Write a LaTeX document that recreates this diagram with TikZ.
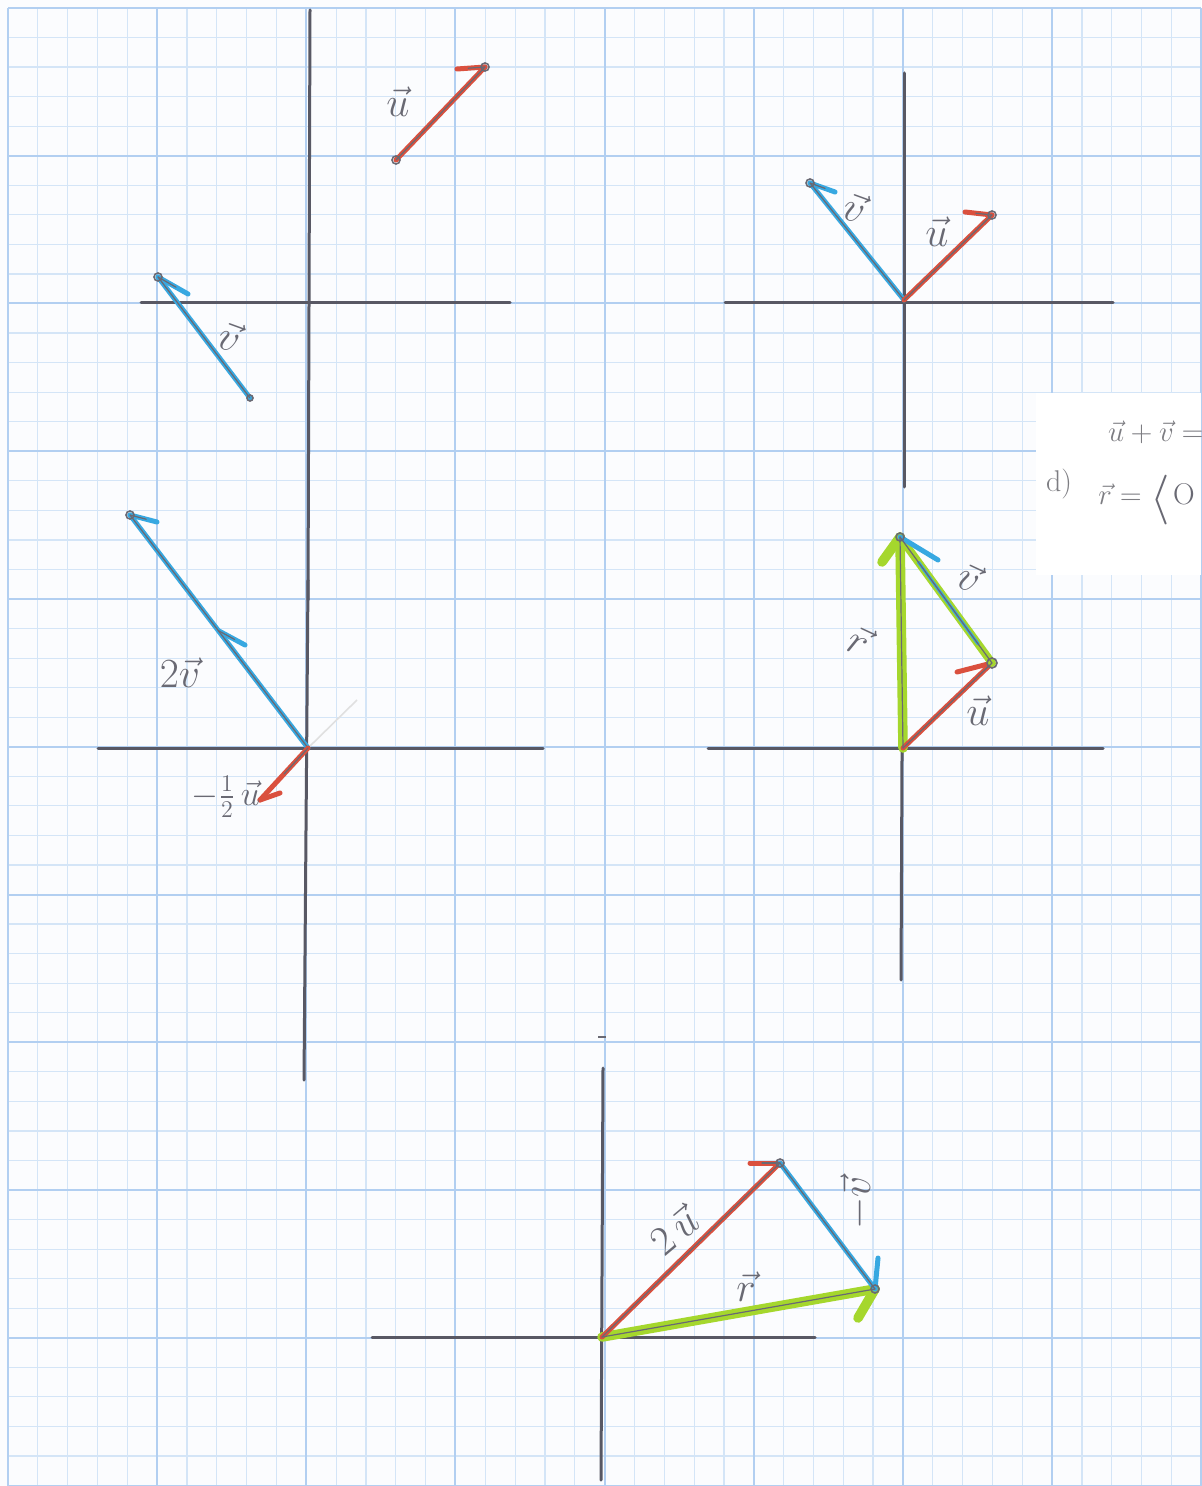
\documentclass[tikz,border=0pt]{standalone}
\usepackage{amsmath}
\usetikzlibrary{calc}
\definecolor{paper}{RGB}{251,252,254}
\definecolor{gridminor}{RGB}{212,229,247}
\definecolor{gridmajor}{RGB}{178,207,241}
\definecolor{pencil}{RGB}{105,105,115}
\definecolor{axisgray}{RGB}{88,88,100}
\definecolor{redink}{RGB}{218,80,62}
\definecolor{blueink}{RGB}{55,168,225}
\definecolor{greenink}{RGB}{165,215,45}
\definecolor{printgray}{RGB}{125,125,130}
\begin{document}
\begin{tikzpicture}[x=0.5pt,y=-0.5pt,
  axisline/.style={axisgray, line width=1.5pt, line cap=round},
  redvec/.style={redink, line width=2.5pt, line cap=round},
  bluevec/.style={blueink, line width=2.5pt, line cap=round},
  greenvec/.style={greenink, line width=4.8pt, line cap=round},
  pencilline/.style={pencil, line width=0.6pt, line cap=round},
  headdot/.style={pencil, line width=0.8pt},
  lab/.style={text=pencil, font=\fontsize{20}{22}\selectfont, inner sep=0pt},
  printtext/.style={text=printgray, font=\fontsize{15}{17}\selectfont, inner sep=0pt}]
\useasboundingbox (0,0) rectangle (1201,1486);
\fill[paper] (0,0) rectangle (1201,1486);
% ---------------- grid paper ----------------
\foreach \i in {0,...,40}{\pgfmathsetmacro\xx{8+29.83*\i}
  \draw[gridminor, line width=0.6pt] (\xx,8) -- (\xx,1485.5);}
\foreach \i in {0,...,50}{\pgfmathsetmacro\yy{8+29.55*\i}
  \draw[gridminor, line width=0.6pt] (8,\yy) -- (1201,\yy);}
\foreach \i in {0,5,...,40}{\pgfmathsetmacro\xx{8+29.83*\i}
  \draw[gridmajor, line width=1pt] (\xx,8) -- (\xx,1485.5);}
\foreach \i in {0,5,...,50}{\pgfmathsetmacro\yy{8+29.55*\i}
  \draw[gridmajor, line width=1pt] (8,\yy) -- (1201,\yy);}
% pasted printed strip
\fill[white] (1036,393) rectangle (1201,575);

% ---------------- panel A (top left) ----------------
\coordinate (axAl) at (141,303); \coordinate (axAr) at (510,303);
\coordinate (axAt) at (310,10);  \coordinate (axAb) at (308,600);
\draw[axisline] (axAl) -- (axAr);
\draw[axisline] (axAt) -- (axAb);
\coordinate (uAt) at (396,160); \coordinate (uAh) at (485,67); \coordinate (uAk) at (457,69);
\draw[redvec] (uAt) -- (uAh); \draw[redvec] (uAh) -- (uAk);
\draw[pencilline] (uAt) -- (uAh); \draw[pencilline] (uAh) -- ($(uAh)!0.6!(uAk)$);
\draw[headdot] (uAt) circle (4); \draw[headdot] (uAh) circle (4);
\coordinate (vAt) at (250,398); \coordinate (vAh) at (158,277); \coordinate (vAk) at (188,294);
\draw[bluevec] (vAt) -- (vAh); \draw[bluevec] (vAh) -- (vAk);
\draw[pencilline] (vAt) -- (vAh); \draw[pencilline] (vAh) -- ($(vAh)!0.6!(vAk)$);
\draw[headdot] (vAt) circle (3); \draw[headdot] (vAh) circle (4);
\node[lab] (luA) at (398,102) {$\vec{u}$};
\node[lab, rotate=-20] (lvA) at (230,336) {$\vec{v}$};

% ---------------- panel B (top right) ----------------
\coordinate (axBl) at (725,303); \coordinate (axBr) at (1113,303);
\coordinate (axBt) at (904,73);  \coordinate (axBb) at (904,487);
\draw[axisline] (axBl) -- (axBr);
\draw[axisline] (axBt) -- (axBb);
\coordinate (oB) at (904,300);
\coordinate (vBh) at (810,183); \coordinate (vBk) at (835,192);
\draw[bluevec] (oB) -- (vBh); \draw[bluevec] (vBh) -- (vBk);
\draw[pencilline] (oB) -- (vBh); \draw[pencilline] (vBh) -- ($(vBh)!0.6!(vBk)$);
\draw[headdot] (vBh) circle (4);
\coordinate (uBh) at (992,215); \coordinate (uBk) at (965,212);
\draw[redvec] (oB) -- (uBh); \draw[redvec] (uBh) -- (uBk);
\draw[pencilline] (oB) -- (uBh); \draw[pencilline] (uBh) -- ($(uBh)!0.6!(uBk)$);
\draw[headdot] (uBh) circle (4);
\node[lab, rotate=-20] (lvB) at (855,207) {$\vec{v}$};
\node[lab] (luB) at (937,232) {$\vec{u}$};

% ---------------- panel C (middle left) ----------------
\coordinate (axCl) at (98,748); \coordinate (axCr) at (543,748);
\coordinate (axCt) at (308,580); \coordinate (axCb) at (304,1080);
\draw[axisline] (axCl) -- (axCr);
\draw[axisline] (axCt) -- (axCb);
\coordinate (oC) at (308,748);
\coordinate (eC) at (357,700);
\draw[black!12, line width=0.8pt] (oC) -- (eC);
\coordinate (vCm) at (219,631); \coordinate (vCh) at (130,515);
\coordinate (vCk) at (157,522); \coordinate (vCmk) at (245,645);
\draw[bluevec] (oC) -- (vCh); \draw[bluevec] (vCh) -- (vCk); \draw[bluevec] (vCm) -- (vCmk);
\draw[pencilline] (oC) -- (vCh); \draw[pencilline] (vCh) -- ($(vCh)!0.6!(vCk)$);
\draw[pencilline] (vCm) -- ($(vCm)!0.6!(vCmk)$);
\draw[headdot] (vCh) circle (4);
\coordinate (uCh) at (260,800); \coordinate (uCk) at (280,793);
\draw[redvec] (oC) -- (uCh); \draw[redvec] (uCh) -- (uCk);
\draw[pencilline] (oC) -- ($(oC)!0.5!(uCh)$);
\node[lab] (lvC) at (180,673) {$2\vec{v}$};
\node[lab, font=\fontsize{17}{19}\selectfont] (luC) at (226,797) {$-\tfrac{1}{2}\,\vec{u}$};

% ---------------- panel D (middle right) ----------------
\coordinate (axDl) at (708,748); \coordinate (axDr) at (1103,748);
\coordinate (axDt) at (903,535); \coordinate (axDb) at (901,980);
\draw[axisline] (axDl) -- (axDr);
\draw[axisline] (axDt) -- (axDb);
\coordinate (oD) at (903,748);
\coordinate (uDh) at (992,663); \coordinate (uDk) at (957,672);
\coordinate (rDh) at (900,537); \coordinate (rDk) at (882,562);
\coordinate (vDk) at (938,560);
\draw[greenvec] (oD) -- (rDh); \draw[greenvec] (rDh) -- (rDk);
\draw[redvec] (oD) -- (uDh); \draw[redvec] (uDh) -- (uDk);
\draw[greenink, line width=4pt, line cap=round] (uDh) -- (rDh);
\draw[bluevec, line width=1.6pt] ($(uDh)!0.15!(rDh)$) -- ($(uDh)!0.8!(rDh)$);
\draw[bluevec] (rDh) -- (vDk);
\draw[pencilline] (oD) -- (rDh); \draw[pencilline] (oD) -- (uDh); \draw[pencilline] (uDh) -- (rDh);
\draw[headdot] (uDh) circle (5); \draw[headdot] (rDh) circle (4);
\node[lab, rotate=-25] (lrD) at (860,640) {$\vec{r}$};
\node[lab, rotate=-25] (lvD) at (970,577) {$\vec{v}$};
\node[lab] (luD) at (978,711) {$\vec{u}$};

% ---------------- panel E (bottom) ----------------
\coordinate (axEl) at (372,1337); \coordinate (axEr) at (815,1337);
\coordinate (axEt) at (603,1068); \coordinate (axEb) at (601,1480);
\draw[axisline] (axEl) -- (axEr);
\draw[axisline] (axEt) -- (axEb);
\coordinate (tkEa) at (598,1037); \coordinate (tkEb) at (606,1037);
\draw[pencil, line width=0.8pt] (tkEa) -- (tkEb);
\coordinate (oE) at (602,1337);
\coordinate (uEh) at (780,1163); \coordinate (uEk) at (750,1163);
\coordinate (vEh) at (875,1289); \coordinate (vEk) at (878,1258);
\coordinate (rEk) at (858,1318);
\draw[greenvec] (oE) -- (vEh); \draw[greenvec] (vEh) -- (rEk);
\draw[redvec] (oE) -- (uEh); \draw[redvec] (uEh) -- (uEk);
\draw[bluevec] (uEh) -- (vEh); \draw[bluevec] (vEh) -- (vEk);
\draw[pencilline] (oE) -- (uEh); \draw[pencilline] (uEh) -- (vEh); \draw[pencilline] (oE) -- (vEh);
\draw[pencilline] (uEh) -- ($(uEh)!0.6!(uEk)$);
\draw[headdot] (uEh) circle (4); \draw[headdot] (vEh) circle (4);
\node[lab, rotate=40] (luE) at (674,1230) {$2\,\vec{u}$};
\node[lab, rotate=90] (lvE) at (857,1203) {$-\vec{v}$};
\node[lab] (lrE) at (746,1287) {$\vec{r}$};

% ---------------- printed strip text ----------------
\node[printtext, anchor=east] (sumtxt) at (1204,432) {$\vec{u}+\vec{v}=$};
\node[printtext] (dtxt) at (1059,484) {d)};
\node[printtext] (rtxt) at (1120,494) {$\vec{r}=$};
\node[text=pencil, font=\fontsize{30}{32}\selectfont, inner sep=0pt] (angtxt) at (1160,500) {$\langle$};
\node[text=pencil, font=\fontsize{15}{17}\selectfont, inner sep=0pt] (zerotxt) at (1184,494) {O};
\end{tikzpicture}
\end{document}
